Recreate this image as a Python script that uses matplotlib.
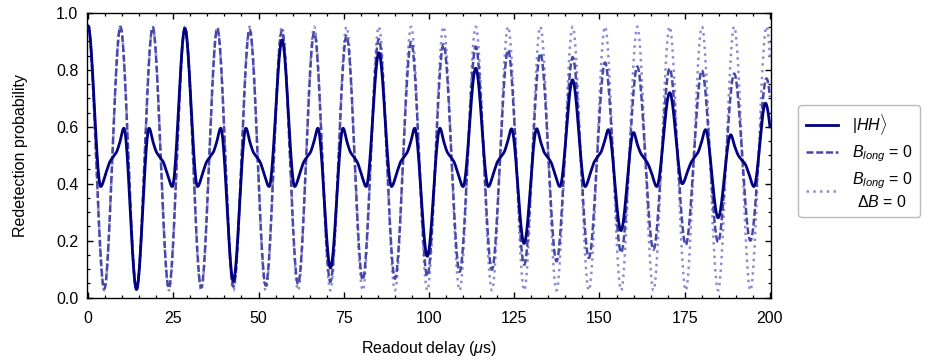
import numpy as np
import matplotlib
matplotlib.use("Agg")
import matplotlib.pyplot as plt
from matplotlib.ticker import MultipleLocator, FormatStrFormatter

plt.rcParams['font.family'] = ['Liberation Sans', 'DejaVu Sans']
plt.rcParams['mathtext.fontset'] = 'custom'
plt.rcParams['mathtext.rm'] = 'Liberation Sans'
plt.rcParams['mathtext.it'] = 'Liberation Sans:italic'
plt.rcParams['mathtext.bf'] = 'Liberation Sans:bold'

# ---------------- data ----------------
# extrema (alternating peak / trough) of the B_long = 0 curves, in microseconds
osc_t = [0.0, 4.74, 9.48, 14.21, 18.95, 23.69, 28.43, 33.17, 37.90, 42.64,
         47.38, 52.12, 56.86, 61.59, 66.33, 71.07, 75.81, 80.55, 85.28, 90.02,
         94.76, 99.50, 104.24, 108.97, 113.71, 118.45, 123.19, 127.93, 132.66, 137.40,
         142.14, 146.88, 151.62, 156.35, 161.09, 165.83, 170.57, 175.31, 180.04, 184.78,
         189.52, 194.26, 199.00, 203.74]
dashed_v = [0.955, 0.030, 0.952, 0.030, 0.950, 0.033, 0.947, 0.035, 0.945, 0.038,
            0.942, 0.042, 0.938, 0.047, 0.932, 0.055, 0.920, 0.062, 0.908, 0.066,
            0.898, 0.075, 0.890, 0.090, 0.882, 0.098, 0.870, 0.115, 0.858, 0.127,
            0.845, 0.139, 0.826, 0.158, 0.812, 0.168, 0.805, 0.185, 0.798, 0.195,
            0.787, 0.200, 0.770, 0.205]
dotted_v = [0.955, 0.025, 0.952, 0.025, 0.952, 0.025, 0.952, 0.025, 0.952, 0.025,
            0.952, 0.025, 0.952, 0.025, 0.952, 0.025, 0.952, 0.025, 0.952, 0.025,
            0.952, 0.025, 0.952, 0.025, 0.952, 0.025, 0.952, 0.025, 0.952, 0.025,
            0.952, 0.025, 0.952, 0.025, 0.952, 0.025, 0.952, 0.025, 0.952, 0.025,
            0.952, 0.025, 0.952, 0.025]

# key points of the |HH> curve
hh_t = [0.0, 3.7, 5.3, 6.3, 7.4, 8.3, 9.3, 10.5, 14.2, 17.9, 19.1, 20.1, 21.0, 22.1, 23.1, 24.7,
        28.4, 32.1, 33.7, 34.7, 35.8, 36.7, 37.7, 38.9, 42.6, 46.3, 47.5, 48.5, 49.4, 50.5, 51.5, 53.1,
        56.9, 60.6, 62.2, 63.2, 64.3, 65.2, 66.2, 67.4, 71.1, 74.8, 76.0, 77.0, 77.9, 79.0, 80.0, 81.6,
        85.3, 89.0, 90.6, 91.6, 92.7, 93.6, 94.6, 95.8, 99.5, 103.2, 104.4, 105.4, 106.3, 107.4, 108.4, 110.0,
        113.7, 117.4, 119.0, 120.0, 121.1, 122.0, 123.0, 124.2, 127.9, 131.6, 132.8, 133.8, 134.7, 135.8, 136.8, 138.4,
        142.1, 145.8, 147.4, 148.4, 149.5, 150.4, 151.4, 152.6, 156.3, 160.0, 161.2, 162.2, 163.1, 164.2, 165.2, 166.8,
        170.6, 174.3, 175.9, 176.9, 178.0, 178.9, 179.9, 181.1, 184.8, 188.5, 189.7, 190.7, 191.6, 192.7, 193.7, 195.3,
        198.7, 202.4]
hh_v = [0.955, 0.39, 0.44, 0.475, 0.495, 0.51, 0.545, 0.595, 0.028, 0.595, 0.545, 0.51, 0.495, 0.475, 0.44, 0.39,
        0.946, 0.39, 0.44, 0.475, 0.495, 0.51, 0.545, 0.595, 0.057, 0.595, 0.545, 0.51, 0.495, 0.475, 0.44, 0.39,
        0.905, 0.39, 0.44, 0.475, 0.495, 0.51, 0.545, 0.595, 0.104, 0.595, 0.545, 0.51, 0.495, 0.475, 0.44, 0.39,
        0.860, 0.39, 0.44, 0.475, 0.495, 0.51, 0.545, 0.595, 0.145, 0.595, 0.545, 0.51, 0.495, 0.475, 0.44, 0.39,
        0.806, 0.39, 0.44, 0.475, 0.495, 0.51, 0.545, 0.593, 0.190, 0.593, 0.545, 0.51, 0.495, 0.475, 0.44, 0.39,
        0.765, 0.39, 0.44, 0.475, 0.495, 0.51, 0.545, 0.590, 0.235, 0.580, 0.535, 0.505, 0.49, 0.47, 0.44, 0.39,
        0.720, 0.40, 0.445, 0.475, 0.495, 0.51, 0.545, 0.590, 0.280, 0.572, 0.53, 0.50, 0.485, 0.47, 0.44, 0.39,
        0.683, 0.39]

x_ticks = [0, 25, 50, 75, 100, 125, 150, 175, 200]
y_ticks = [0.0, 0.2, 0.4, 0.6, 0.8, 1.0]
labels = [r'$|HH\rangle$', r'$B_{long}$ = 0', r'$B_{long}$ = 0' + '\n' + r'$\Delta B$ = 0']


def smooth_curve(xk, yk, xs):
    """Monotone piecewise-cubic (PCHIP) curve through the key points."""
    xk = np.asarray(xk, float)
    yk = np.asarray(yk, float)
    h = np.diff(xk)
    d = np.diff(yk) / h
    m = np.zeros_like(yk)
    for i in range(1, len(xk) - 1):
        if d[i - 1] * d[i] > 0:
            w1 = 2 * h[i] + h[i - 1]
            w2 = h[i] + 2 * h[i - 1]
            m[i] = (w1 + w2) / (w1 / d[i - 1] + w2 / d[i])
    idx = np.clip(np.searchsorted(xk, xs) - 1, 0, len(xk) - 2)
    s = (xs - xk[idx]) / h[idx]
    h00 = 2 * s**3 - 3 * s**2 + 1
    h10 = s**3 - 2 * s**2 + s
    h01 = -2 * s**3 + 3 * s**2
    h11 = s**3 - s**2
    return (h00 * yk[idx] + h10 * h[idx] * m[idx]
            + h01 * yk[idx + 1] + h11 * h[idx] * m[idx + 1])


xs = np.linspace(0, 200, 6000)

fig = plt.figure(figsize=(9.28, 3.62), dpi=100)
ax = fig.add_axes([86.7 / 928, (362 - 297.5) / 362, (771.3 - 86.7) / 928, (297.5 - 13) / 362])

l3, = ax.plot(xs, smooth_curve(osc_t, dotted_v, xs), color='#8c8cd0', lw=1.8,
              linestyle=(0, (1, 1.7)), label=labels[2], zorder=2)
l2, = ax.plot(xs, smooth_curve(osc_t, dashed_v, xs), color='#4848a8', lw=1.8,
              linestyle=(0, (2.8, 1.1)), label=labels[1], zorder=3)
l1, = ax.plot(xs, smooth_curve(hh_t, hh_v, xs), color='#000080', lw=2.0,
              label=labels[0], zorder=4)

ax.set_xlim(-0.4, 200.4)
ax.set_ylim(0, 1.0)
ax.set_xticks(x_ticks)
ax.set_yticks(y_ticks)
ax.yaxis.set_major_formatter(FormatStrFormatter('%.1f'))
ax.xaxis.set_minor_locator(MultipleLocator(5))
ax.yaxis.set_minor_locator(MultipleLocator(0.05))
ax.tick_params(which='both', direction='in', top=True, right=True, labelsize=11.5)
ax.tick_params(which='major', length=4.5, width=1.0)
ax.tick_params(axis='x', which='major', pad=10)
ax.tick_params(axis='y', which='major', pad=6)
ax.tick_params(which='minor', length=2.5, width=0.9)
for sp in ax.spines.values():
    sp.set_linewidth(1.0)

ax.set_xlabel(r'Readout delay ($\mu$s)', fontsize=11.5, labelpad=9)
ax.set_ylabel('Redetection probability', fontsize=11.5, labelpad=20)

leg = ax.legend(handles=[l1, l2, l3], loc='center left', bbox_to_anchor=(1.028, 0.48),
                fontsize=11.5, frameon=True, fancybox=True, framealpha=1,
                edgecolor='#bbbbbb', handlelength=2.0, handletextpad=0.9,
                borderpad=0.45, labelspacing=0.4)
leg.get_texts()[2].set_multialignment('center')

fig.savefig('out.png', dpi=100)
